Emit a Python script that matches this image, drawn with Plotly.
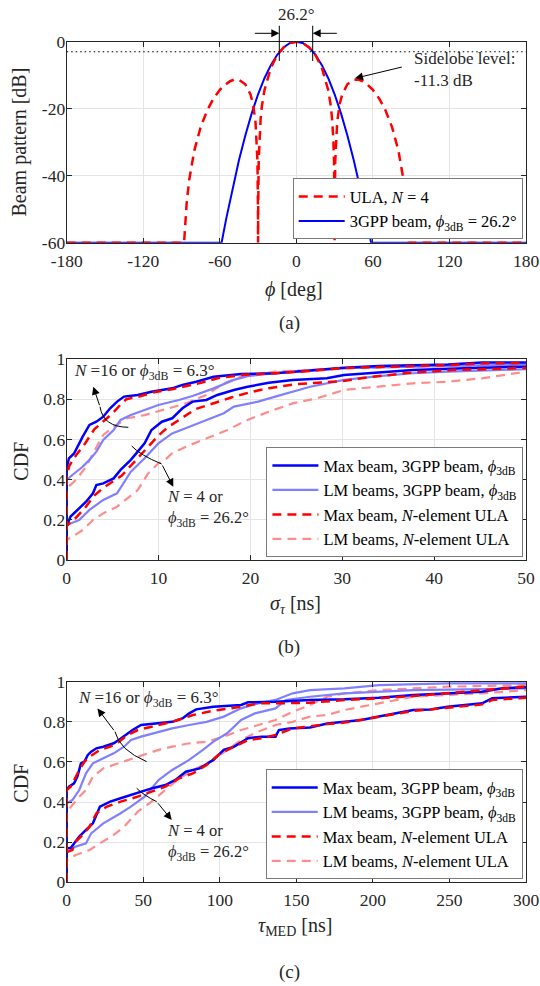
import plotly.graph_objects as go

# ---------------- (a) beam patterns ----------------
phi_ticks = [-180, -120, -60, 0, 60, 120, 180]
phi_ticktext = ["-180", "-120", "-60", "0", "60", "120", "180"]
db_ticks = [-60, -40, -20, 0]
db_ticktext = ["-60", "-40", "-20", "0"]

ula_phi = [-180, -90, -88, -86, -84, -80, -75, -70, -65, -60, -56, -52, -48.6, -45, -40, -36, -34, -32, -31,
           -30.5, -30.1, -30, -29.9, -29.5, -29, -28, -27, -25, -20, -15, -10, -5, 0,
           5, 10, 15, 20, 25, 27, 28, 29, 29.5, 29.9, 30, 30.1, 30.5, 31, 32, 34, 36, 40, 45, 48.6,
           52, 56, 60, 65, 70, 75, 80, 84, 86, 88, 90, 180]
ula_db = [-60, -60, -60, -48.3, -41.3, -32.5, -25.5, -20.6, -17.0, -14.4, -12.9, -11.8, -11.3, -11.4, -12.7,
          -15.7, -18.5, -24.0, -29.7, -35.6, -49.5, -60, -49.5, -35.4, -29.2, -23.0, -19.2, -14.5, -7.8, -4.0,
          -1.7, -0.4, 0,
          -0.4, -1.7, -4.0, -7.8, -14.5, -19.2, -23.0, -29.2, -35.4, -49.5, -60, -49.5, -35.6, -29.7, -24.0,
          -18.5, -15.7, -12.7, -11.4, -11.3, -11.8, -12.9, -14.4, -17.0, -20.6, -25.5, -32.5, -41.3, -48.3,
          -60, -60, -60]

gpp_phi = [-180, -58.6, -55, -50, -45, -40, -35, -30, -25, -20, -15, -10, -5, 0,
           5, 10, 15, 20, 25, 30, 35, 40, 45, 50, 55, 58.6, 180]
gpp_db = [-60, -60, -52.9, -43.7, -35.4, -28.0, -21.4, -15.7, -10.9, -7.0, -3.9, -1.7, -0.4, 0,
          -0.4, -1.7, -3.9, -7.0, -10.9, -15.7, -21.4, -28.0, -35.4, -43.7, -52.9, -60, -60]

hpbw_line_phi = [-180, 180]
hpbw_line_db = [-3, -3]

# ---------------- (b) delay spread CDFs ----------------
sig_ticks = [0, 10, 20, 30, 40, 50]
sig_ticktext = ["0", "10", "20", "30", "40", "50"]
cdf_ticks = [0, 0.2, 0.4, 0.6, 0.8, 1]
cdf_ticktext = ["0", "0.2", "0.4", "0.6", "0.8", "1"]

# N=16 / 6.3 deg group
b16_max3_x = [0, 0, 0.24, 0.8, 1.74, 2.48, 3.23, 3.98, 4.73, 5.49, 6.24, 7.73, 9.23, 11.48, 12.6, 14.1, 16.0,
              19.0, 22.7, 26.5, 30.2, 34.0, 41.5, 45.2, 50]
b16_max3_y = [0, 0.456, 0.506, 0.53, 0.614, 0.672, 0.688, 0.713, 0.755, 0.788, 0.813, 0.821, 0.837, 0.854,
              0.871, 0.887, 0.912, 0.925, 0.929, 0.945, 0.957, 0.965, 0.973, 0.982, 0.983]
b16_lm3_x = [0, 0, 0.61, 1.74, 2.48, 3.23, 3.98, 5.11, 5.86, 6.98, 8.48, 9.98, 12.2, 13.7, 16.0, 18.2, 19.7,
             22.7, 26.5, 30.2, 37.7, 50]
b16_lm3_y = [0, 0.398, 0.423, 0.464, 0.498, 0.539, 0.597, 0.647, 0.697, 0.721, 0.746, 0.771, 0.796, 0.816,
             0.854, 0.896, 0.915, 0.929, 0.942, 0.954, 0.962, 0.973]
b16_maxula_x = [0, 0, 0.3, 1, 2, 3, 4, 5, 6, 6.5, 8, 9.5, 11.5, 13, 14.5, 16.5, 19, 23, 26.5, 30, 34, 41.5, 45, 50]
b16_maxula_y = [0, 0.42, 0.47, 0.52, 0.58, 0.65, 0.69, 0.73, 0.78, 0.80, 0.815, 0.835, 0.85, 0.865, 0.88,
                0.905, 0.92, 0.93, 0.94, 0.955, 0.96, 0.97, 0.978, 0.98]
b16_lmula_x = [0, 0, 0.99, 2.11, 2.86, 3.98, 5.11, 6.6, 8.48, 10.36, 12.98, 15.2, 17.1, 19.0, 22.7, 26.5, 30.2,
               37.7, 50]
b16_lmula_y = [0, 0.356, 0.398, 0.464, 0.531, 0.622, 0.663, 0.705, 0.721, 0.746, 0.779, 0.821, 0.879, 0.912,
               0.937, 0.945, 0.954, 0.962, 0.970]
# N=4 / 26.2 deg group
b4_max3_x = [0, 0, 0.42, 1.36, 2.11, 2.86, 3.23, 3.98, 5.11, 5.86, 6.98, 7.73, 8.48, 9.23, 10.36, 11.48, 12.6,
             13.7, 15.2, 16.4, 18.2, 19.7, 22.0, 24.6, 28.3, 30.2, 34.0, 37.7, 43.3, 50]
b4_max3_y = [0, 0.17, 0.216, 0.257, 0.29, 0.332, 0.373, 0.381, 0.406, 0.448, 0.498, 0.539, 0.58, 0.647, 0.688,
             0.705, 0.755, 0.788, 0.796, 0.821, 0.846, 0.862, 0.882, 0.896, 0.904, 0.92, 0.932, 0.945, 0.954, 0.962]
b4_lm3_x = [0, 0, 1.36, 2.48, 3.98, 5.48, 6.98, 8.48, 9.98, 11.48, 13.36, 15.23, 17.1, 18.2, 20.85, 22.7, 24.6,
            26.5, 30.2, 34.0, 37.7, 41.5, 50]
b4_lm3_y = [0, 0.174, 0.199, 0.249, 0.299, 0.332, 0.439, 0.506, 0.58, 0.63, 0.663, 0.697, 0.73, 0.763, 0.788,
            0.813, 0.837, 0.862, 0.896, 0.915, 0.929, 0.937, 0.949]
b4_maxula_x = [0, 0, 0.5, 1, 2, 3, 4, 5, 6, 7, 8, 9, 10, 11, 12, 13, 14, 16, 18, 20, 22, 25, 28, 30, 33, 37, 42, 50]
b4_maxula_y = [0, 0.17, 0.19, 0.21, 0.26, 0.32, 0.36, 0.39, 0.42, 0.47, 0.52, 0.57, 0.62, 0.66, 0.69, 0.72, 0.75,
               0.78, 0.81, 0.835, 0.855, 0.875, 0.885, 0.89, 0.91, 0.93, 0.945, 0.955]
b4_lmula_x = [0, 0, 0.61, 1.74, 2.86, 3.98, 5.48, 6.6, 7.73, 8.86, 9.98, 10.7, 11.48, 12.98, 15.2, 17.5, 19.7,
              22.0, 24.6, 27.2, 30.2, 34.0, 37.7, 41.5, 45.2, 50]
b4_lmula_y = [0, 0.10, 0.116, 0.149, 0.199, 0.232, 0.265, 0.307, 0.348, 0.431, 0.481, 0.498, 0.531, 0.564, 0.605,
              0.647, 0.697, 0.738, 0.779, 0.804, 0.846, 0.862, 0.879, 0.887, 0.904, 0.937]

# ---------------- (c) median delay CDFs ----------------
med_ticks = [0, 50, 100, 150, 200, 250, 300]
med_ticktext = ["0", "50", "100", "150", "200", "250", "300"]

c16_max3_x = [0, 0, 1.5, 4.8, 7, 9.3, 11.5, 13.8, 16, 19.4, 23.9, 30.7, 34, 38.5, 43, 48.6, 57.6, 68.9, 75.6, 80,
              84.6, 95.8, 113.9, 118.4, 136.4, 158.9, 181.4, 203.9, 226.3, 248.8, 271.3, 284.8, 300]
c16_max3_y = [0, 0.46, 0.477, 0.493, 0.527, 0.593, 0.601, 0.635, 0.651, 0.668, 0.676, 0.693, 0.709, 0.734, 0.759,
              0.784, 0.792, 0.8, 0.817, 0.842, 0.862, 0.875, 0.884, 0.897, 0.9, 0.909, 0.912, 0.92, 0.934, 0.942,
              0.95, 0.967, 0.972]
c16_lm3_x = [0, 0, 3.7, 8.2, 12.6, 17.1, 23.9, 30.7, 37.5, 42, 48.6, 60, 68.9, 80, 91.4, 102.6, 113.9, 125,
             136.4, 147.6, 158.9, 181.4, 203.9, 248.8, 300]
c16_lm3_y = [0, 0.394, 0.41, 0.46, 0.543, 0.593, 0.618, 0.643, 0.676, 0.709, 0.726, 0.751, 0.767, 0.784, 0.8,
             0.826, 0.867, 0.892, 0.909, 0.942, 0.958, 0.967, 0.983, 0.992, 0.992]
c16_maxula_x = [0, 0, 2.6, 4.8, 8.2, 11.5, 14.9, 21.7, 28.4, 34, 39.7, 46.4, 55.4, 68.9, 82.4, 95.8, 113.9, 125,
                136.4, 158.9, 181.4, 203.9, 226.3, 248.8, 271.3, 300]
c16_maxula_y = [0, 0.46, 0.477, 0.51, 0.56, 0.6, 0.626, 0.66, 0.676, 0.70, 0.734, 0.759, 0.776, 0.8, 0.834,
                0.855, 0.875, 0.892, 0.892, 0.895, 0.909, 0.917, 0.929, 0.942, 0.958, 0.975]
c16_lmula_x = [0, 0, 3.7, 8.2, 12.6, 17.1, 23.9, 30.7, 39.7, 50.9, 60, 68.9, 80, 91.4, 102.6, 113.9, 125, 136.4,
               147.6, 158.9, 170.2, 181.4, 203.9, 248.8, 300]
c16_lmula_y = [0, 0.352, 0.385, 0.427, 0.46, 0.527, 0.568, 0.585, 0.61, 0.635, 0.66, 0.676, 0.693, 0.701, 0.726,
               0.759, 0.784, 0.809, 0.85, 0.884, 0.925, 0.942, 0.958, 0.975, 0.983]

c4_max3_x = [0, 0, 2.5, 4.8, 8.2, 12.6, 17.1, 21.7, 28.4, 35.2, 41.9, 48.6, 55.4, 64.4, 71, 77.8, 86.8, 95.8,
             102.6, 109.4, 118.4, 127.4, 136.4, 138.6, 145.4, 158.9, 170.2, 181.4, 192.6, 203.9, 215.1, 226.3,
             237.6, 248.8, 260, 271.3, 278, 300]
c4_max3_y = [0, 0.17, 0.17, 0.194, 0.228, 0.261, 0.294, 0.377, 0.402, 0.419, 0.435, 0.452, 0.468, 0.485, 0.51,
             0.551, 0.568, 0.61, 0.66, 0.676, 0.718, 0.726, 0.726, 0.759, 0.767, 0.772, 0.792, 0.8, 0.809, 0.826,
             0.842, 0.859, 0.862, 0.875, 0.884, 0.892, 0.917, 0.925]
c4_lm3_x = [0, 0, 5.9, 12.6, 16, 23.9, 35.2, 41.9, 50.9, 60, 68.9, 80, 89, 95.8, 104.8, 113.9, 122.9, 136.4,
            143.1, 158.9, 181.4, 203.9, 226.3, 271.3, 300]
c4_lm3_y = [0, 0.17, 0.178, 0.194, 0.244, 0.294, 0.344, 0.377, 0.427, 0.51, 0.56, 0.61, 0.66, 0.701, 0.743,
            0.809, 0.842, 0.867, 0.909, 0.925, 0.942, 0.95, 0.958, 0.963, 0.967]
c4_maxula_x = [0, 0, 3.7, 5.9, 10.4, 14.9, 19.4, 26.2, 35.2, 46.4, 55.4, 64.4, 73.4, 82.4, 91.4, 100.4, 109.4,
               118.4, 127.4, 136.4, 147.6, 158.9, 170.2, 181.4, 203.9, 226.3, 248.8, 271.3, 278, 300]
c4_maxula_y = [0, 0.15, 0.161, 0.203, 0.236, 0.277, 0.344, 0.377, 0.402, 0.427, 0.452, 0.477, 0.518, 0.543,
               0.585, 0.643, 0.676, 0.709, 0.718, 0.734, 0.767, 0.779, 0.789, 0.796, 0.826, 0.854, 0.87, 0.887,
               0.909, 0.92]
c4_lmula_x = [0, 0, 5.9, 14.9, 21.7, 30.7, 37.5, 46.4, 55.4, 64.4, 73.4, 84.6, 95.8, 104.8, 113.9, 125, 136.4,
              147.6, 158.9, 170.2, 181.4, 203.9, 226.3, 248.8, 271.3, 300]
c4_lmula_y = [0, 0.111, 0.136, 0.161, 0.194, 0.236, 0.277, 0.352, 0.402, 0.46, 0.518, 0.568, 0.61, 0.66, 0.709,
              0.751, 0.784, 0.8, 0.826, 0.834, 0.859, 0.892, 0.925, 0.934, 0.942, 0.958]

legend_names = ["Max beam, 3GPP beam, <i>ϕ</i><sub>3dB</sub>",
                "LM beams, 3GPP beam, <i>ϕ</i><sub>3dB</sub>",
                "Max beam, <i>N</i>-element ULA",
                "LM beams, <i>N</i>-element ULA"]

# ---------------- figure ----------------
W, H = 540, 986
FONT = "Liberation Serif"
INK = "#262626"


def PX(x):
    return x / W


def PY(y):
    return 1 - y / H


fig = go.Figure()

# (a)
fig.add_trace(go.Scatter(x=hpbw_line_phi, y=hpbw_line_db, mode="lines", showlegend=False, hoverinfo="skip",
                         line=dict(color="black", width=1.2, dash="1.5px,3px"), xaxis="x", yaxis="y"))
fig.add_trace(go.Scatter(x=gpp_phi, y=gpp_db, mode="lines", name="3GPP beam, <i>ϕ</i><sub>3dB</sub> = 26.2°",
                         line=dict(color="#0000ff", width=2), legend="legend", legendrank=2,
                         xaxis="x", yaxis="y"))
fig.add_trace(go.Scatter(x=ula_phi, y=ula_db, mode="lines", name="ULA, <i>N</i> = 4",
                         line=dict(color="#ff0000", width=2.5, dash="9px,6px"), legend="legend", legendrank=1,
                         xaxis="x", yaxis="y"))

styles = {
    "lmula": dict(color="#ff8c8c", width=2.2, dash="9px,6px"),
    "lm3": dict(color="#8080ff", width=2.2),
    "max3": dict(color="#0000ff", width=2.5),
    "maxula": dict(color="#ff0000", width=2.5, dash="9px,6px"),
}
names = {"max3": legend_names[0], "lm3": legend_names[1], "maxula": legend_names[2], "lmula": legend_names[3]}
ranks = {"max3": 1, "lm3": 2, "maxula": 3, "lmula": 4}

curves_b = {
    "lmula": [(b16_lmula_x, b16_lmula_y), (b4_lmula_x, b4_lmula_y)],
    "lm3": [(b16_lm3_x, b16_lm3_y), (b4_lm3_x, b4_lm3_y)],
    "max3": [(b16_max3_x, b16_max3_y), (b4_max3_x, b4_max3_y)],
    "maxula": [(b16_maxula_x, b16_maxula_y), (b4_maxula_x, b4_maxula_y)],
}
curves_c = {
    "lmula": [(c16_lmula_x, c16_lmula_y), (c4_lmula_x, c4_lmula_y)],
    "lm3": [(c16_lm3_x, c16_lm3_y), (c4_lm3_x, c4_lm3_y)],
    "max3": [(c16_max3_x, c16_max3_y), (c4_max3_x, c4_max3_y)],
    "maxula": [(c16_maxula_x, c16_maxula_y), (c4_maxula_x, c4_maxula_y)],
}

for curves, xa, ya, lg in [(curves_b, "x2", "y2", "legend2"), (curves_c, "x3", "y3", "legend3")]:
    for key in ["lmula", "lm3", "max3", "maxula"]:
        for i, (xs, ys) in enumerate(curves[key]):
            fig.add_trace(go.Scatter(x=xs, y=ys, mode="lines", name=names[key], line=styles[key],
                                     showlegend=(i == 0), legend=lg, legendrank=ranks[key],
                                     legendgroup=lg + key, xaxis=xa, yaxis=ya, hoverinfo="skip"))

ax = dict(showline=True, linecolor=INK, linewidth=1, mirror="ticks", ticks="inside", ticklen=5,
          tickcolor=INK, tickwidth=1, showgrid=True, gridcolor="#e4e4e4", gridwidth=1, zeroline=False,
          tickfont=dict(family=FONT, size=17.5, color=INK), tickmode="array", fixedrange=True, automargin=False)
axx = dict(ax, ticklabelstandoff=2)
axy = dict(ax, ticklabelstandoff=-3)

dom_x = [66.7 / W, 526.0 / W]
dom_a = [PY(242.7), PY(41.7)]
dom_b = [PY(560.0), PY(359.0)]
dom_c = [PY(882.3), PY(681.7)]

leg = dict(bgcolor="white", bordercolor="#7a7a7a", borderwidth=1, font=dict(family=FONT, size=16.5, color="black"),
           itemwidth=46, xanchor="right", yanchor="bottom", tracegroupgap=0, traceorder="normal")

fig.update_layout(
    width=W, height=H, margin=dict(l=0, r=0, t=0, b=0, pad=0, autoexpand=False),
    paper_bgcolor="white", plot_bgcolor="white",
    font=dict(family=FONT, color=INK),
    xaxis=dict(domain=dom_x, anchor="y", range=[-180, 180], tickvals=phi_ticks, ticktext=phi_ticktext, **axx),
    yaxis=dict(domain=dom_a, anchor="x", range=[-60, 0], tickvals=db_ticks, ticktext=db_ticktext, **axy),
    xaxis2=dict(domain=dom_x, anchor="y2", range=[0, 50], tickvals=sig_ticks, ticktext=sig_ticktext, **axx),
    yaxis2=dict(domain=dom_b, anchor="x2", range=[0, 1], tickvals=cdf_ticks, ticktext=cdf_ticktext, **axy),
    xaxis3=dict(domain=dom_x, anchor="y3", range=[0, 300], tickvals=med_ticks, ticktext=med_ticktext, **axx),
    yaxis3=dict(domain=dom_c, anchor="x3", range=[0, 1], tickvals=cdf_ticks, ticktext=cdf_ticktext, **axy),
    legend=dict(x=PX(522.7), y=PY(239.3), **leg),
    legend2=dict(x=PX(523.4), y=PY(557.3), **leg),
    legend3=dict(x=PX(522.7), y=PY(879.3), **leg),
)

anns = []


def txt(x, y, text, size=17, xanchor="center", angle=0):
    anns.append(dict(xref="paper", yref="paper", x=PX(x), y=PY(y), text=text, showarrow=False,
                     font=dict(family=FONT, size=size, color=INK), xanchor=xanchor, yanchor="middle",
                     textangle=angle, align="left"))


def arrow(tx, ty, sx, sy, size=1.6):
    anns.append(dict(xref="paper", yref="paper", x=PX(tx), y=PY(ty), ax=sx - tx, ay=sy - ty,
                     axref="pixel", ayref="pixel", text="", showarrow=True, arrowhead=2, arrowsize=size,
                     arrowwidth=1, arrowcolor="black", standoff=0, startstandoff=0))


# axis titles
txt(294, 289, "<i>ϕ</i> [deg]", size=20)
txt(19, 142.5, "Beam pattern [dB]", size=20, angle=-90)
txt(295, 604, "<i>σ</i><sub><i>τ</i></sub> [ns]", size=20)
txt(20.7, 461, "CDF", size=20, angle=-90)
txt(295, 926, "<i>τ</i><sub>MED</sub> [ns]", size=20)
txt(20.7, 783, "CDF", size=20, angle=-90)
# panel labels
txt(289, 323, "(a)", size=19)
txt(289, 647, "(b)", size=19)
txt(289, 971.7, "(c)", size=19)

# (a) annotations
txt(296.5, 14, "26.2°", size=17)
arrow(279.3, 33.3, 253.3, 33.3)
arrow(312.7, 33.3, 338.3, 33.3)
txt(411.7, 70, "Sidelobe level:<br>-11.3 dB", size=17, xanchor="left")
arrow(355, 78.3, 403.3, 66.7)

# (b) annotations
txt(72.3, 372.0, "<i>N</i> =16 or <i>ϕ</i><sub>3dB</sub> = 6.3°", size=17, xanchor="left")
arrow(93.3, 386.7, 100, 406.7)
txt(164.6, 508, "<i>N</i> = 4 or<br><i>ϕ</i><sub>3dB</sub> = 26.2°", size=16.5, xanchor="left")
arrow(173.3, 486.7, 161.7, 464)

# (c) annotations
txt(76.4, 699.0, "<i>N</i> =16 or <i>ϕ</i><sub>3dB</sub> = 6.3°", size=17, xanchor="left")
arrow(97.5, 708.5, 115, 731.7)
txt(164.6, 841.5, "<i>N</i> = 4 or<br><i>ϕ</i><sub>3dB</sub> = 26.2°", size=16.5, xanchor="left")
arrow(171.7, 820, 156.7, 801.7)

fig.update_layout(annotations=anns)

shapes = []


def seg(x0, y0, x1, y1):
    shapes.append(dict(type="line", xref="paper", yref="paper", x0=PX(x0), y0=PY(y0), x1=PX(x1), y1=PY(y1),
                       line=dict(color="black", width=1)))


def arc(p0, c, p1):
    path = "M %.5f %.5f Q %.5f %.5f %.5f %.5f" % (PX(p0[0]), PY(p0[1]), PX(c[0]), PY(c[1]), PX(p1[0]), PY(p1[1]))
    shapes.append(dict(type="path", xref="paper", yref="paper", path=path, line=dict(color="black", width=1)))


seg(279.3, 25.7, 279.3, 61)
seg(312.7, 25.7, 312.7, 61)
arc((100, 406.7), (103, 427), (128.3, 427.3))
arc((131.7, 446), (139.9, 455), (161.7, 464))
arc((115, 731.7), (119.2, 749.9), (146.7, 761.7))
arc((136.7, 788.3), (143.3, 795), (156.7, 801.7))
fig.update_layout(shapes=shapes)

fig.write_html("out.html")
